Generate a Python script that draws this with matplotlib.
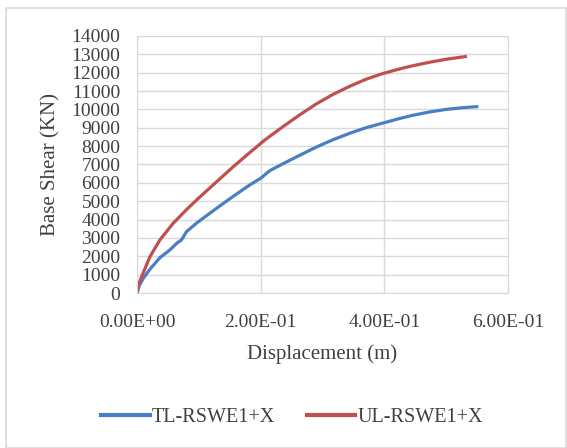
import matplotlib
matplotlib.use("Agg")
import matplotlib.pyplot as plt
from matplotlib.ticker import FuncFormatter, MultipleLocator
from matplotlib.patches import Rectangle

tl_disp = [0, 0.004, 0.0102, 0.021, 0.037, 0.053, 0.064, 0.072, 0.080, 0.096, 0.112,
           0.1285, 0.155, 0.182, 0.2, 0.2145, 0.236, 0.263, 0.290, 0.317, 0.344,
           0.370, 0.397, 0.424, 0.446, 0.473, 0.4995, 0.525, 0.5495]
tl_shear = [0, 420, 800, 1300, 1920, 2340, 2700, 2890, 3340, 3800, 4200,
            4610, 5250, 5880, 6250, 6660, 7040, 7500, 7950, 8350, 8700,
            9000, 9250, 9500, 9680, 9860, 10000, 10090, 10150]

ul_disp = [0, 0.003, 0.0075, 0.021, 0.037, 0.0586, 0.080, 0.1, 0.1285, 0.155,
           0.182, 0.2065, 0.236, 0.263, 0.290, 0.317, 0.344, 0.370, 0.397, 0.424,
           0.446, 0.473, 0.4995, 0.531]
ul_shear = [0, 500, 890, 1980, 2890, 3800, 4540, 5180, 6050, 6860,
            7640, 8330, 9060, 9700, 10300, 10820, 11260, 11640, 11950, 12200,
            12380, 12570, 12730, 12880]

series_names = ["TL-RSWE1+X", "UL-RSWE1+X"]
x_ticks = [0, 0.2, 0.4, 0.6]

plt.rcParams['font.family'] = ['Liberation Serif', 'DejaVu Serif']
txt = '#404040'

fig = plt.figure(figsize=(5.67, 4.48), dpi=100)
fig.patches.append(Rectangle((6/567, 0), 560/567, (448-8)/448, transform=fig.transFigure,
                             fill=False, edgecolor='#d9d9d9', linewidth=1.2))
ax = fig.add_axes([137/567, (448-293)/448, (508-137)/567, (293-36)/448])

ax.plot(tl_disp, tl_shear, color='#4A7EC4', linewidth=2.3, label=series_names[0])
ax.plot(ul_disp, ul_shear, color='#C0504D', linewidth=2.3, label=series_names[1])

ax.set_xlim(0, 0.6)
ax.set_ylim(0, 14000)
ax.set_xticks(x_ticks)
ax.yaxis.set_major_locator(MultipleLocator(1000))
ax.xaxis.set_major_formatter(FuncFormatter(lambda v, p: '%.2E' % v))
ax.grid(True, color='#d9d9d9', linewidth=1)
ax.set_axisbelow(True)
for s in ax.spines.values():
    s.set_color('#d9d9d9')
ax.tick_params(axis='both', length=0, labelsize=14, colors=txt)
ax.tick_params(axis='x', pad=15)
ax.tick_params(axis='y', pad=12)
ax.set_xlabel('Displacement (m)', fontsize=15, color=txt, labelpad=10)
ax.set_ylabel('Base Shear (KN)', fontsize=15, color=txt, labelpad=8)

leg = fig.legend(loc='center', bbox_to_anchor=(292/567, (448-417)/448), ncol=2, frameon=False,
                 fontsize=14.5, handlelength=2.4, handletextpad=0.1, columnspacing=1.6)
for t in leg.get_texts():
    t.set_color(txt)
for h in leg.get_lines():
    h.set_linewidth(3)

fig.savefig('out.png', dpi=100)
